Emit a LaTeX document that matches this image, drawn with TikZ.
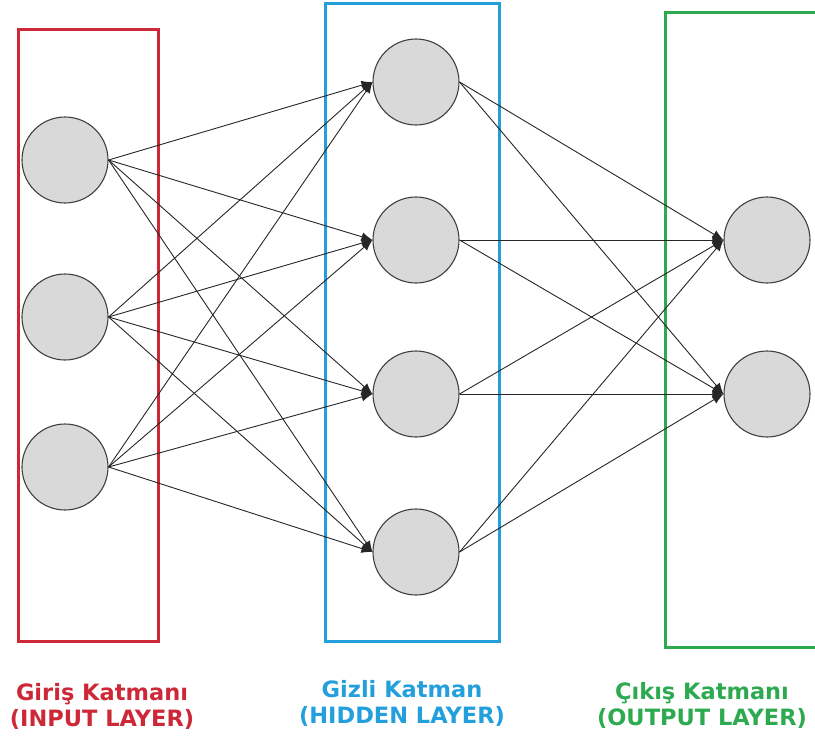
\documentclass[tikz,border=0pt]{standalone}
\usepackage{fontspec}
\setmainfont{DejaVu Sans}
\usetikzlibrary{arrows.meta}
\definecolor{inred}{RGB}{205,40,55}
\definecolor{hidblue}{RGB}{35,160,220}
\definecolor{outgreen}{RGB}{45,170,80}
\tikzset{
  neuron/.style={circle,draw=black!75,fill=gray!30,line width=1.1pt,minimum size=86pt,inner sep=0pt},
  conn/.style={-{Latex[length=11pt,width=9pt]},draw=black!85,line width=0.9pt},
  layerbox/.style={line width=3pt},
  layertext/.style={font=\bfseries\fontsize{22.5}{26}\selectfont,align=center}
}
\begin{document}
\begin{tikzpicture}[x=1pt,y=-1pt]
    \useasboundingbox (0,0) rectangle (815,739);
    \clip (0,0) rectangle (815,739);

    % layer frames
    \draw[layerbox,inred] (18,29) rectangle (158,641);
    \draw[layerbox,hidblue] (325,3) rectangle (499,641);
    \draw[layerbox,outgreen] (665,12) rectangle (830,647);

    \node[neuron] at (65,160)(in1){};
    \node[neuron] at (65,317)(in2){};
    \node[neuron] at (65,467)(in3){};
    \node[neuron] at (416,82)(hid1){};
    \node[neuron] at (416,240)(hid2){};
    \node[neuron] at (416,394)(hid3){};
    \node[neuron] at (416,552)(hid4){};
    \node[neuron] at (767,240)(out1){};
    \node[neuron] at (767,394)(out2){};

    \node[layertext,text=inred] at (102,706)(inlbl){Giriş Katmanı\\(INPUT LAYER)};
    \node[layertext,text=hidblue] at (402,703)(hidlbl){Gizli Katman\\(HIDDEN LAYER)};
    \node[layertext,text=outgreen] at (702,705)(outlbl){Çıkış Katmanı\\(OUTPUT LAYER)};

    \draw[conn](in1.east) -- (hid1.west);
    \draw[conn](in1.east) -- (hid2.west);
    \draw[conn](in1.east) -- (hid3.west);
    \draw[conn](in1.east) -- (hid4.west);
    \draw[conn](in2.east) -- (hid1.west);
    \draw[conn](in2.east) -- (hid2.west);
    \draw[conn](in2.east) -- (hid3.west);
    \draw[conn](in2.east) -- (hid4.west);
    \draw[conn](in3.east) -- (hid1.west);
    \draw[conn](in3.east) -- (hid2.west);
    \draw[conn](in3.east) -- (hid3.west);
    \draw[conn](in3.east) -- (hid4.west);
    \draw[conn](hid1.east) -- (out1.west);
    \draw[conn](hid1.east) -- (out2.west);
    \draw[conn](hid2.east) -- (out1.west);
    \draw[conn](hid2.east) -- (out2.west);
    \draw[conn](hid3.east) -- (out1.west);
    \draw[conn](hid3.east) -- (out2.west);
    \draw[conn](hid4.east) -- (out1.west);
    \draw[conn](hid4.east) -- (out2.west);
\end{tikzpicture}
\end{document}
